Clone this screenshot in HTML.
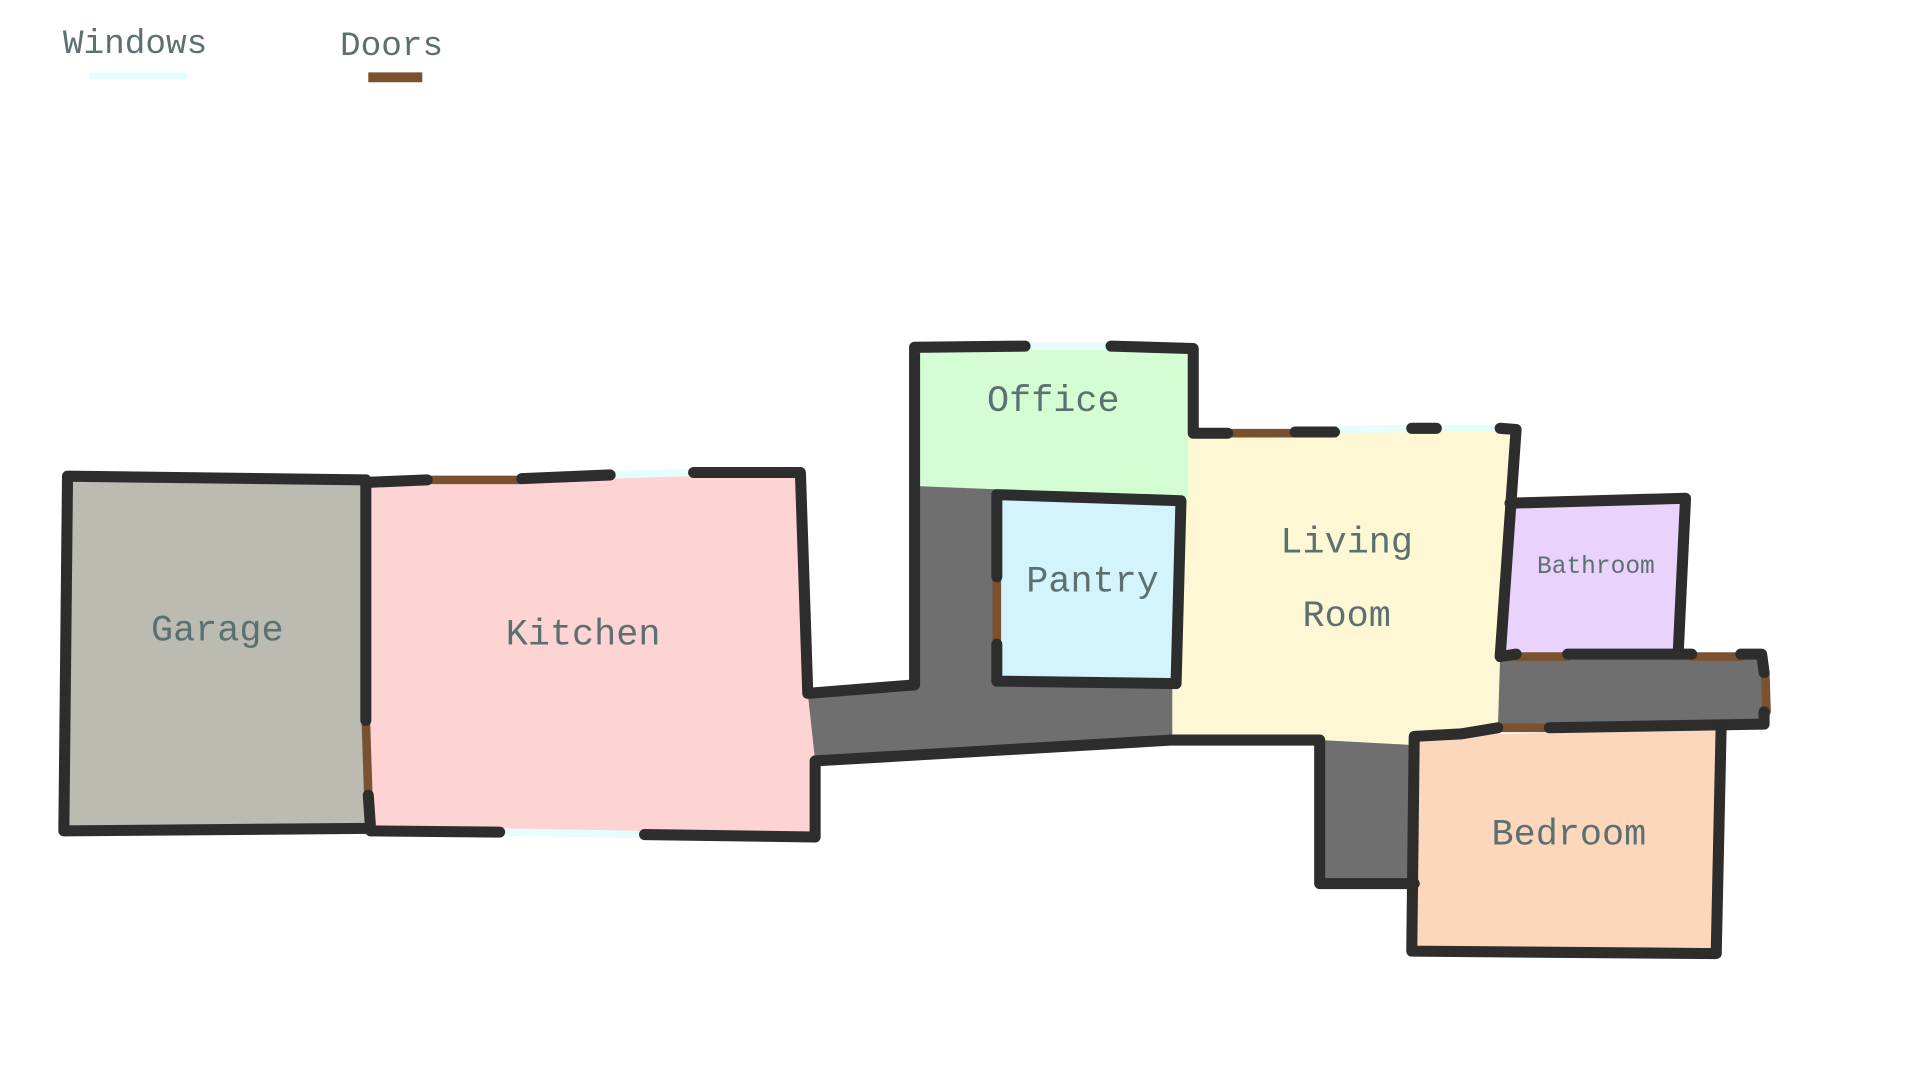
<!DOCTYPE html>
<html><head><meta charset="utf-8"><style>html,body{margin:0;padding:0;background:#fff;width:1920px;height:1080px;overflow:hidden}</style></head>
<body>
<svg width="1920" height="1080" viewBox="0 0 1564 880" preserveAspectRatio="none" xmlns="http://www.w3.org/2000/svg">
<g stroke="none">
<polygon fill="#6f6f6f" points="656,565 745,558 745,396 815,396 815,555 955,555 955,603 664,620"/>
<polygon fill="#6f6f6f" points="1075,600 1152,600 1152,720 1075,720"/>
<polygon fill="#6f6f6f" points="1218,533 1437,533 1437,590 1218,593"/>
<polygon fill="#bbbbb2" points="55,388 298,391 300,675 52,677"/>
<polygon fill="#fdd3d3" points="298,391 652,385 658,565 664,620 664,682 302,677"/>
<polygon fill="#d4fdd4" points="745,283 972,283 972,353 968,405 745,396"/>
<polygon fill="#d3f4fd" points="812,403 962,408 958,557 812,555"/>
<polygon fill="#fdf8d3" points="968,353 1235,350 1222,535 1220,598 1150,607 1075,603 955,603 955,557 962,408 968,405"/>
<polygon fill="#e9d3fd" points="1230,410 1373,406 1367,533 1225,533"/>
<polygon fill="#fdd7bb" points="1152,600 1402,593 1398,777 1150,775"/>
</g>
<g fill="none" stroke-linecap="round" stroke-linejoin="round">
<g stroke="#e6fdfd" stroke-width="6">
<line x1="75" y1="62" x2="150" y2="62"/>
<line x1="497" y1="387" x2="565" y2="385"/>
<line x1="835" y1="282" x2="905" y2="282"/>
<line x1="1087" y1="350" x2="1150" y2="349"/>
<line x1="1170" y1="349" x2="1222" y2="349"/>
<line x1="407" y1="678" x2="525" y2="680"/>
</g>
<g stroke="#7a5230" stroke-width="7">
<line x1="300" y1="63" x2="344" y2="63" stroke-width="8" stroke-linecap="butt"/>
<line x1="298" y1="587" x2="300" y2="648"/>
<line x1="348" y1="391" x2="425" y2="391"/>
<line x1="1000" y1="353" x2="1055" y2="353"/>
<line x1="1235" y1="535" x2="1277" y2="535"/>
<line x1="1378" y1="535" x2="1418" y2="535"/>
<line x1="1438" y1="548" x2="1439" y2="580"/>
<line x1="1220" y1="593" x2="1262" y2="593"/>
<line x1="812" y1="470" x2="812" y2="525"/>
</g>
<g stroke="#2d2d2d" stroke-width="9">
<polyline points="298,391 55,388 52,677 300,675"/>
<line x1="298" y1="391" x2="298" y2="587"/>
<line x1="300" y1="648" x2="302" y2="677"/>
<line x1="300" y1="393" x2="348" y2="391"/>
<line x1="425" y1="390" x2="497" y2="387"/>
<polyline points="565,385 652,385 658,565 745,558 745,283 835,282"/>
<polyline points="905,282 972,284 972,353 1000,353"/>
<line x1="1055" y1="352" x2="1087" y2="352"/>
<line x1="1150" y1="349" x2="1170" y2="349"/>
<polyline points="1222,349 1235,350 1222,535 1235,533"/>
<polyline points="1230,410 1373,406 1367,533"/>
<line x1="1277" y1="533" x2="1378" y2="533"/>
<polyline points="1418,533 1435,533 1437,548"/>
<polyline points="1437,580 1437,590 1262,593"/>
<polyline points="1220,593 1190,598 1152,600 1150,775 1398,777 1402,593"/>
<polyline points="1152,720 1075,720 1075,603 955,603 664,620 664,682 525,680"/>
<line x1="407" y1="678" x2="302" y2="677"/>
<polyline points="812,470 812,403 962,408 958,557 812,555 812,525"/>
</g>
</g>
<g font-family="Liberation Mono, monospace" fill="#5d7070" text-anchor="middle">
<text x="110" y="43" font-size="28">Windows</text>
<text x="319" y="45" font-size="28">Doors</text>
<text x="177" y="522" font-size="30">Garage</text>
<text x="475" y="525" font-size="30">Kitchen</text>
<text x="858" y="335" font-size="30">Office</text>
<text x="890" y="482" font-size="30">Pantry</text>
<text x="1097" y="450" font-size="30">Living</text>
<text x="1097" y="510" font-size="30">Room</text>
<text x="1300" y="467" font-size="20">Bathroom</text>
<text x="1278" y="688" font-size="30">Bedroom</text>
</g>
</svg>
</body></html>
